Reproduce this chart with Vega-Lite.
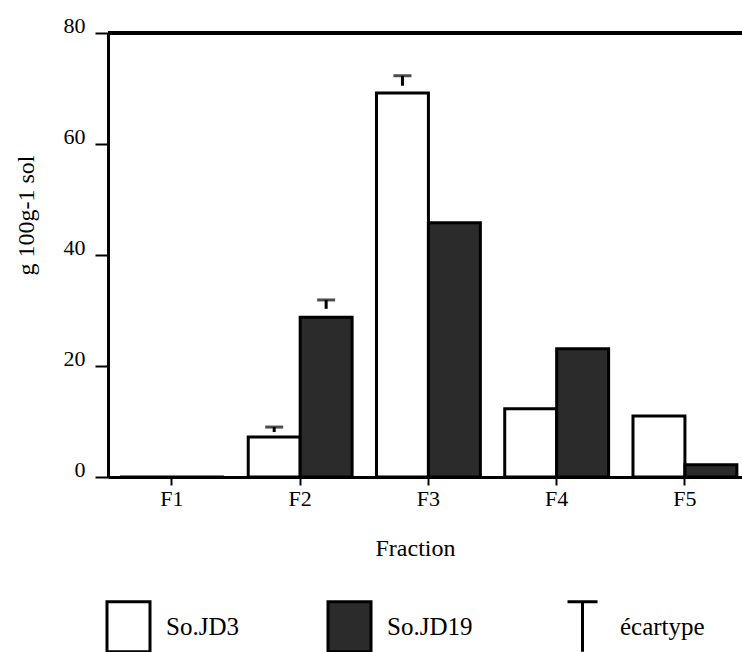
{
  "$schema": "https://vega.github.io/schema/vega-lite/v6.json",
  "autosize": {"type": "none"},
  "padding": {"left": 108, "top": 33, "right": 0, "bottom": 175},
  "width": 634,
  "height": 444,
  "background": "white",
  "config": {
    "font": "Liberation Serif",
    "view": {"stroke": null},
    "axis": {
      "domainColor": "black",
      "domainWidth": 3,
      "tickColor": "black",
      "tickWidth": 2,
      "labelColor": "black",
      "titleColor": "black",
      "labelFont": "Liberation Serif",
      "titleFont": "Liberation Serif",
      "labelFontSize": 22,
      "titleFontSize": 24,
      "titleFontWeight": "normal",
      "grid": false
    },
    "legend": {
      "labelFont": "Liberation Serif",
      "labelColor": "black"
    }
  },
  "data": {
    "values": [
      {"fraction": "F1", "serie": "So.JD3", "valeur": 0},
      {"fraction": "F1", "serie": "So.JD19", "valeur": 0},
      {"fraction": "F2", "serie": "So.JD3", "valeur": 7.2, "ecart_bas": 8.1, "ecart_haut": 9.0},
      {"fraction": "F2", "serie": "So.JD19", "valeur": 28.8, "ecart_bas": 30.3, "ecart_haut": 31.9},
      {"fraction": "F3", "serie": "So.JD3", "valeur": 69.2, "ecart_bas": 70.5, "ecart_haut": 72.3},
      {"fraction": "F3", "serie": "So.JD19", "valeur": 45.8},
      {"fraction": "F4", "serie": "So.JD3", "valeur": 12.3},
      {"fraction": "F4", "serie": "So.JD19", "valeur": 23.1},
      {"fraction": "F5", "serie": "So.JD3", "valeur": 11.0},
      {"fraction": "F5", "serie": "So.JD19", "valeur": 2.2}
    ]
  },
  "encoding": {
    "x": {
      "field": "fraction",
      "type": "nominal",
      "scale": {"paddingInner": 0.19, "paddingOuter": 0.0667, "align": 0.7},
      "axis": {
        "title": "Fraction",
        "labelAngle": 0,
        "tickSize": 8,
        "labelPadding": 20,
        "labelBaseline": "alphabetic",
        "titleX": 307,
        "titleY": 78,
        "titleBaseline": "alphabetic",
        "titleAlign": "center"
      }
    },
    "xOffset": {
      "field": "serie",
      "type": "nominal",
      "scale": {"domain": ["So.JD3", "So.JD19"], "paddingInner": 0, "paddingOuter": 0}
    }
  },
  "layer": [
    {
      "mark": {"type": "bar", "stroke": "black", "strokeWidth": 3},
      "encoding": {
        "y": {
          "field": "valeur",
          "type": "quantitative",
          "scale": {"domain": [0, 80], "nice": false},
          "axis": {
            "title": "g 100g-1 sol",
            "values": [0, 20, 40, 60, 80],
            "tickSize": 13,
            "labelPadding": 10,
            "labelBaseline": "alphabetic",
            "labelOffset": -1,
            "titleX": -75,
            "titleY": 182,
            "titleAngle": -90,
            "titleBaseline": "alphabetic",
            "titleAlign": "center"
          }
        },
        "color": {
          "field": "serie",
          "type": "nominal",
          "scale": {"domain": ["So.JD3", "So.JD19", "écartype"], "range": ["white", "#2b2b2b", "white"]},
          "legend": {
            "title": null,
            "orient": "none",
            "legendX": -6,
            "legendY": 567,
            "direction": "horizontal",
            "padding": 0,
            "symbolSize": 2500,
            "symbolType": "M-0.86,-1H0.86V1H-0.86Z",
            "symbolStrokeColor": "black",
            "symbolStrokeWidth": 3,
            "symbolOpacity": 1,
            "labelFontSize": 25,
            "labelOffset": 11,
            "columnPadding": 83,
            "encode": {
              "symbols": {
                "update": {
                  "shape": {"signal": "datum.value === 'écartype' ? 'M-0.6,-1H0.6M0,-1V1' : 'M-0.86,-1H0.86V1H-0.86Z'"}
                }
              }
            }
          }
        }
      }
    },
    {
      "mark": {"type": "rule", "color": "black", "strokeWidth": 3},
      "encoding": {"x": null, "xOffset": null, "y": {"datum": 80}}
    },
    {
      "transform": [{"filter": "isValid(datum.ecart_haut)"}],
      "mark": {"type": "rule", "color": "black", "strokeWidth": 3},
      "encoding": {
        "y": {"field": "ecart_bas", "type": "quantitative"},
        "y2": {"field": "ecart_haut"}
      }
    },
    {
      "transform": [{"filter": "isValid(datum.ecart_haut)"}],
      "mark": {"type": "tick", "color": "black", "size": 18, "thickness": 3, "orient": "horizontal"},
      "encoding": {
        "y": {"field": "ecart_haut", "type": "quantitative"}
      }
    }
  ]
}
